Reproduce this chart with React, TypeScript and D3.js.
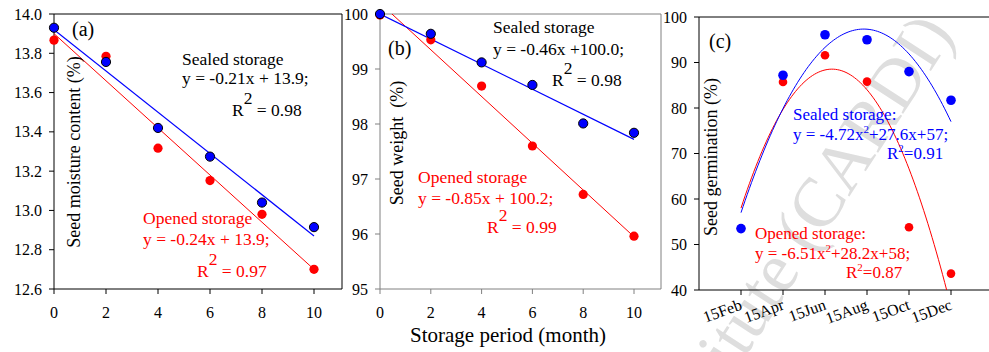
import React from 'react';
import {scaleLinear, line, range} from 'd3';

// storage months (panels a and b)
const months = [0, 2, 4, 6, 8, 10];
const moistureSealed = [13.93, 13.756, 13.42, 13.274, 13.04, 12.915];
const moistureOpened = [13.867, 13.785, 13.317, 13.152, 12.98, 12.7];
const weightSealed = [100.0, 99.64, 99.12, 98.71, 98.01, 97.84];
const weightOpened = [99.98, 99.53, 98.69, 97.6, 96.72, 95.96];

// sowing dates (panel c)
const sowDates = ['15Feb', '15Apr', '15Jun', '15Aug', '15Oct', '15Dec'];
const germSealed = [53.5, 87.2, 96.1, 95.0, 88.0, 81.7];
const germOpened = [53.5, 85.7, 91.6, 85.8, 53.8, 43.6];

// fitted lines: [intercept, slope per month]
const fitMoistSealed = [13.92, -0.105];
const fitMoistOpened = [13.9, -0.12];
const fitWeightSealed = [100.0, -0.228];
const fitWeightOpened = [100.2, -0.425];
// quadratic fits: [c, b, a] with x = date index
const fitGermSealed = [57, 27.6, -4.72];
const fitGermOpened = [58, 28.2, -6.51];

const font = '"Liberation Serif", "Times New Roman", serif';
const RED = '#ff0000';
const BLUE = '#0000ff';

function YAxis({y, x0, ticks, fmt, color, labelRight}) {
  return (
    <g>
      <line x1={x0} x2={x0} y1={y.range()[1]} y2={y.range()[0]} stroke={color} />
      {ticks.map(t => (
        <g key={t}>
          <line x1={x0 - 5} x2={x0} y1={y(t)} y2={y(t)} stroke={color} />
          <text x={labelRight} y={y(t)} dy="0.35em" textAnchor="end" fontSize={16} fontFamily={font}>
            {fmt(t)}
          </text>
        </g>
      ))}
    </g>
  );
}

function Frame({x0, x1, y0, y1, color}) {
  return (
    <g fill="none" stroke={color}>
      <line x1={x0} x2={x1} y1={y0} y2={y0} />
      <line x1={x1} x2={x1} y1={y0} y2={y1} />
      <line x1={x0} x2={x1} y1={y1} y2={y1} />
    </g>
  );
}

function Panel({id, x, y, sealed, opened, fitS, fitO, xRight, color, outline, yTicks, fmt, labelRight}) {
  const x0 = x.range()[0];
  const [yb, yt] = y.range();
  const lin = f => line()
    .x(d => x(d))
    .y(d => y(f[0] + f[1] * d))([0, 10]);
  return (
    <g>
      <defs>
        <clipPath id={id}>
          <rect x={x0} y={yt} width={xRight - x0} height={yb - yt} />
        </clipPath>
      </defs>
      <Frame x0={x0} x1={xRight} y0={yt} y1={yb} color={color} />
      <YAxis y={y} x0={x0} ticks={yTicks} fmt={fmt} color={color} labelRight={labelRight} />
      {months.map(m => (
        <g key={m}>
          <line x1={x(m)} x2={x(m)} y1={yb} y2={yb + 5} stroke={color} />
          <text x={x(m)} y={318} textAnchor="middle" fontSize={16} fontFamily={font}>{m}</text>
        </g>
      ))}
      <g clipPath={`url(#${id})`}>
        <path d={lin(fitO)} stroke={RED} fill="none" strokeWidth={1} />
        <path d={lin(fitS)} stroke={BLUE} fill="none" strokeWidth={1.2} />
      </g>
      {opened.map((v, i) => (
        <circle key={'o' + i} cx={x(months[i])} cy={y(v)} r={4.6} fill={RED} />
      ))}
      {sealed.map((v, i) => (
        <circle key={'s' + i} cx={x(months[i])} cy={y(v)} r={4.6} fill={BLUE}
          stroke={outline} strokeWidth={1} />
      ))}
    </g>
  );
}

export default function App() {
  const xa = scaleLinear().domain([0, 10]).range([54, 314]);
  const ya = scaleLinear().domain([12.6, 14.0]).range([289, 14]);
  const xb = scaleLinear().domain([0, 10]).range([380, 634]);
  const yb = scaleLinear().domain([95, 100]).range([289, 14]);
  const xc = scaleLinear().domain([0, 5]).range([741, 951]);
  const yc = scaleLinear().domain([40, 100]).range([290, 17]);

  const quad = f => t => f[0] + f[1] * t + f[2] * t * t;
  const curve = f => line()
    .x(d => xc(d))
    .y(d => yc(quad(f)(d)))(range(0, 5.001, 0.05));

  const ann = {fontFamily: font, fontSize: 17.5};
  const annC = {fontFamily: font, fontSize: 17};

  return (
    <svg width={989} height={352} style={{position: 'absolute', left: 0, top: 0, background: '#fff'}}>
      {/* watermark */}
      <text x={955} y={34} textAnchor="end" fontFamily={font} fontSize={70} fill="#dedede"
        transform="rotate(-57 955 34)">Institute (CARDI)</text>

      {/* panel a */}
      <Panel id="ca" x={xa} y={ya} sealed={moistureSealed} opened={moistureOpened}
        fitS={fitMoistSealed} fitO={fitMoistOpened} xRight={342} color="#000" outline="#000"
        yTicks={ya.ticks(7)} fmt={t => t.toFixed(1)} labelRight={42} />
      <text x={72} y={36} fontFamily={font} fontSize={20}>(a)</text>
      <text transform="translate(80,152) rotate(-90)" textAnchor="middle" fontFamily={font} fontSize={18}>
        Seed moisture content (%)
      </text>
      <g {...ann}>
        <text x={182} y={65}>Sealed storage</text>
        <text x={182} y={84}>y = -0.21x + 13.9;</text>
        <text x={232} y={116}>R<tspan dy={-12}>2</tspan><tspan dy={12}> = 0.98</tspan></text>
      </g>
      <g {...ann} fill={RED}>
        <text x={143} y={224}>Opened storage</text>
        <text x={143} y={245}>y = -0.24x + 13.9;</text>
        <text x={197} y={277}>R<tspan dy={-12}>2</tspan><tspan dy={12}> = 0.97</tspan></text>
      </g>

      {/* panel b */}
      <Panel id="cb" x={xb} y={yb} sealed={weightSealed} opened={weightOpened}
        fitS={fitWeightSealed} fitO={fitWeightOpened} xRight={661} color="#808080" outline="#000"
        yTicks={yb.ticks(5)} fmt={t => String(t)} labelRight={368} />
      <text x={388} y={55} fontFamily={font} fontSize={20}>(b)</text>
      <text transform="translate(403,143) rotate(-90)" textAnchor="middle" fontFamily={font} fontSize={18}
        style={{whiteSpace: 'pre'}}>
        {'Seed weight  (%)'}
      </text>
      <g {...ann}>
        <text x={493} y={33}>Sealed storage</text>
        <text x={493} y={55}>y = -0.46x +100.0;</text>
        <text x={552} y={86}>R<tspan dy={-12}>2</tspan><tspan dy={12}> = 0.98</tspan></text>
      </g>
      <g {...ann} fill={RED}>
        <text x={418} y={183}>Opened storage</text>
        <text x={418} y={204}>y = -0.85x + 100.2;</text>
        <text x={487} y={233}>R<tspan dy={-12}>2</tspan><tspan dy={12}> = 0.99</tspan></text>
      </g>
      <text x={508} y={342} textAnchor="middle" fontFamily={font} fontSize={21}>Storage period (month)</text>

      {/* panel c */}
      <defs>
        <clipPath id="cc">
          <rect x={699} y={17} width={300} height={273} />
        </clipPath>
      </defs>
      <Frame x0={699} x1={995} y0={17} y1={290} color="#000" />
      <YAxis y={yc} x0={699} ticks={yc.ticks(6)} fmt={t => String(t)} color="#000" labelRight={687} />
      {sowDates.map((d, i) => (
        <g key={d}>
          <line x1={xc(i)} x2={xc(i)} y1={290} y2={295} stroke="#000" />
          <text transform={`translate(${xc(i) + 2},309) rotate(-20)`} textAnchor="end"
            fontFamily={font} fontSize={16}>{d}</text>
        </g>
      ))}
      <g clipPath="url(#cc)">
        <path d={curve(fitGermOpened)} stroke={RED} fill="none" />
        <path d={curve(fitGermSealed)} stroke={BLUE} fill="none" />
      </g>
      {germOpened.map((v, i) => (
        <circle key={'o' + i} cx={xc(i)} cy={yc(v)} r={4.3} fill={RED} />
      ))}
      {germSealed.map((v, i) => (
        <circle key={'s' + i} cx={xc(i)} cy={yc(v)} r={4.8} fill={BLUE} />
      ))}
      <text x={709} y={48} fontFamily={font} fontSize={20}>(c)</text>
      <text transform="translate(717,157) rotate(-90)" textAnchor="middle" fontFamily={font} fontSize={18}>
        Seed germination (%)
      </text>
      <g {...annC} fill={BLUE}>
        <text x={793} y={120}>Sealed storage:</text>
        <text x={793} y={140}>y = -4.72x<tspan dy={-7} fontSize={11}>2</tspan><tspan dy={7}>+27.6x+57;</tspan></text>
        <text x={887} y={159}>R<tspan dy={-7} fontSize={11}>2</tspan><tspan dy={7}>=0.91</tspan></text>
      </g>
      <g {...annC} fill={RED}>
        <text x={755} y={239}>Opened storage:</text>
        <text x={755} y={259}>y = -6.51x<tspan dy={-7} fontSize={11}>2</tspan><tspan dy={7}>+28.2x+58;</tspan></text>
        <text x={846} y={278}>R<tspan dy={-7} fontSize={11}>2</tspan><tspan dy={7}>=0.87</tspan></text>
      </g>
    </svg>
  );
}
